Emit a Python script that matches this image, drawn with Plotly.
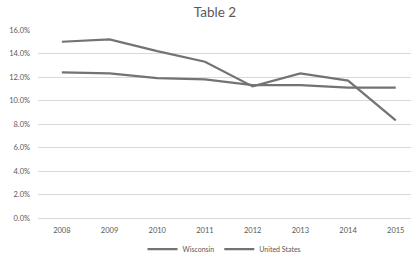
import plotly.graph_objects as go

years = ["2008", "2009", "2010", "2011", "2012", "2013", "2014", "2015"]
wisconsin = [15.0, 15.2, 14.2, 13.3, 11.2, 12.3, 11.7, 8.3]
united_states = [12.4, 12.3, 11.9, 11.8, 11.3, 11.3, 11.1, 11.1]
y_ticks = [0, 2, 4, 6, 8, 10, 12, 14, 16]
y_tick_labels = [f"{v:.1f}%" for v in y_ticks]

line_color = "#737373"
font_family = "Lato, 'Open Sans', sans-serif"

fig = go.Figure()
fig.add_trace(go.Scatter(x=years, y=wisconsin, mode="lines", name="Wisconsin",
                         line=dict(color=line_color, width=2.25)))
fig.add_trace(go.Scatter(x=years, y=united_states, mode="lines", name="United States",
                         line=dict(color=line_color, width=2.25)))

fig.update_layout(
    width=411, height=254,
    margin=dict(l=38, r=0, t=30, b=36, autoexpand=False),
    paper_bgcolor="white", plot_bgcolor="white",
    font=dict(family=font_family, color="#595959", size=7),
    title=dict(text="Table 2", x=0.523, xref="container", xanchor="center",
               y=0.95, yref="container", yanchor="middle",
               font=dict(size=13.5, color="#595959", family=font_family)),
    showlegend=True,
    legend=dict(orientation="h", x=0.5, xanchor="center", y=-0.165, yanchor="middle",
                font=dict(size=7, color="#595959"), itemwidth=30),
    hovermode=False,
)
fig.update_xaxes(type="category", range=[-0.5, 7.32], showgrid=False, automargin=False,
                 showline=True, linecolor="#d9d9d9", linewidth=1,
                 ticks="", ticklabelstandoff=5, tickfont=dict(size=7.5, color="#595959"))
fig.update_yaxes(range=[0, 16], tickvals=y_ticks, ticktext=y_tick_labels, automargin=False,
                 showgrid=True, gridcolor="#d9d9d9", gridwidth=1, zeroline=False,
                 showline=False, ticks="", ticklabelstandoff=7,
                 tickfont=dict(size=7.5, color="#595959"))

fig.write_html("out.html", config={"displayModeBar": False, "staticPlot": True},
               post_script="document.body.style.margin='0px';document.body.style.overflow='hidden';")
